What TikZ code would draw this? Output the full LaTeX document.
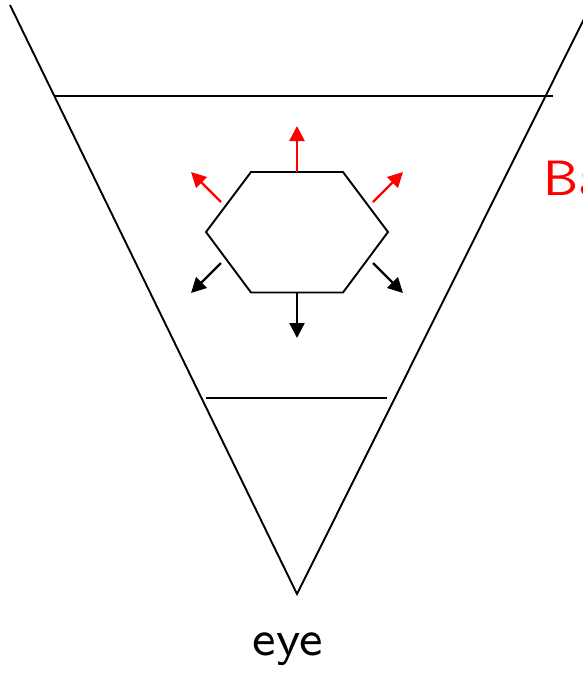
\documentclass[tikz,border=0pt]{standalone}
\usetikzlibrary{arrows.meta}
\begin{document}
\begin{tikzpicture}[x=1pt,y=-1pt,
  edge/.style={line width=1.9pt,black},
  normal/.style={line width=2.4pt,-{Triangle[length=15pt,width=15pt]}},
  lbl/.style={font=\sffamily\fontsize{8}{9.6}\selectfont,scale=6.2,inner sep=0pt,anchor=base west}]
\useasboundingbox (0,0) rectangle (583,673);
% frustum
\coordinate (tl) at (10,5);
\coordinate (apex) at (297,594);
\coordinate (tr) at (587,13);
\draw[edge] (tl) -- (apex) -- (tr);
\coordinate (fa) at (55,96);
\coordinate (fb) at (553,96);
\draw[edge] (fa) -- (fb);
\coordinate (na) at (206,398);
\coordinate (nb) at (387,398);
\draw[edge] (na) -- (nb);
% hexagon
\coordinate (h1) at (251,172);
\coordinate (h2) at (343,172);
\coordinate (h3) at (388,232);
\coordinate (h4) at (343,292.5);
\coordinate (h5) at (251,292.5);
\coordinate (h6) at (206,232);
\draw[edge,line join=miter] (h1) -- (h2) -- (h3) -- (h4) -- (h5) -- (h6) -- cycle;
% normals
\coordinate (s1) at (297,172);  \coordinate (t1) at (297,126);
\coordinate (s2) at (221,202);  \coordinate (t2) at (191,172);
\coordinate (s3) at (373,202);  \coordinate (t3) at (403,172);
\coordinate (s4) at (297,292.5);\coordinate (t4) at (297,338);
\coordinate (s5) at (221,263);  \coordinate (t5) at (191,293);
\coordinate (s6) at (373,263);  \coordinate (t6) at (403,293);
\draw[normal,red] (s1) -- (t1);
\draw[normal,red] (s2) -- (t2);
\draw[normal,red] (s3) -- (t3);
\draw[normal,black] (s4) -- (t4);
\draw[normal,black] (s5) -- (t5);
\draw[normal,black] (s6) -- (t6);
% labels
\node[lbl,text=red] (ba) at (542,195) {Ba};
\node[lbl,text=black] (eye) at (251.5,655.5) {eye};
\end{tikzpicture}
\end{document}
